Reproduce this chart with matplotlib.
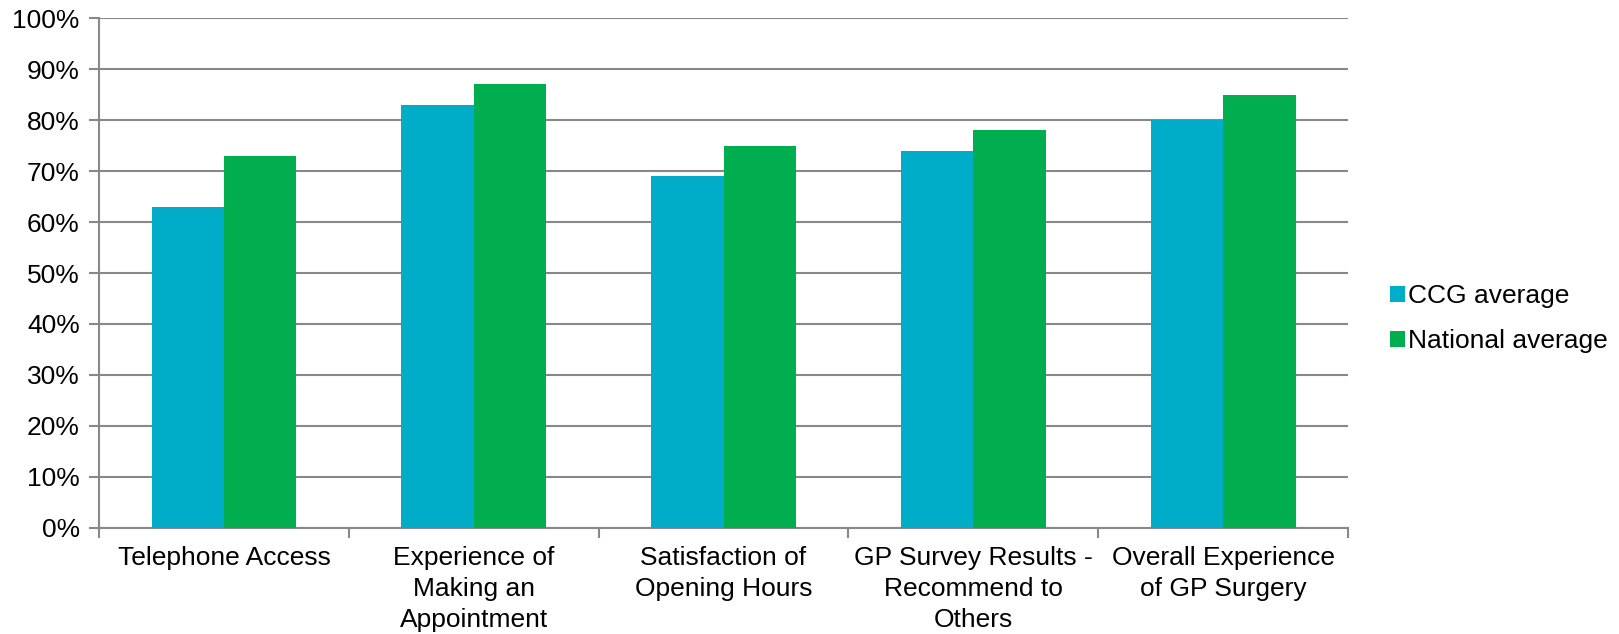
import numpy as np
import matplotlib
matplotlib.use("Agg")
import matplotlib.pyplot as plt
from matplotlib.ticker import FuncFormatter, FixedLocator

# 資料
categories = [
    "Telephone Access",
    "Experience of\nMaking an\nAppointment",
    "Satisfaction of\nOpening Hours",
    "GP Survey Results -\nRecommend to\nOthers",
    "Overall Experience\nof GP Surgery",
]
ccg_avg = [63, 83, 69, 74, 80]
national_avg = [73, 87, 75, 78, 85]
series_names = ["CCG average", "National average"]

plt.rcParams['font.family'] = ['Liberation Sans', 'DejaVu Sans']
fs = 19

fig = plt.figure(figsize=(16.19, 6.34), dpi=100)
ax = fig.add_axes([0.0612, 0.1672, 0.7714, 0.8044])

x = np.arange(len(categories))
w = 0.29
ax.bar(x - w / 2, ccg_avg, w, color="#00ADC8", label=series_names[0], zorder=3)
ax.bar(x + w / 2, national_avg, w, color="#00AE4F", label=series_names[1], zorder=3)

ax.set_xlim(-0.5, len(categories) - 0.5)
ax.set_ylim(0, 100)
ax.set_yticks(np.arange(0, 101, 10))
ax.yaxis.set_major_formatter(FuncFormatter(lambda v, p: f"{int(v)}%"))
ax.grid(axis="y", color="#888888", linewidth=1.5, zorder=0)

# x 軸：刻度在類別邊界，標籤在中間
ax.xaxis.set_major_locator(FixedLocator(np.arange(-0.5, len(categories), 1.0)))
ax.xaxis.set_major_formatter(FuncFormatter(lambda v, p: ""))
ax.xaxis.set_minor_locator(FixedLocator(x))
ax.set_xticklabels(categories, minor=True, fontsize=fs, linespacing=1.38)
ax.tick_params(axis="x", which="major", length=7, width=1.5, color="#888888")
ax.tick_params(axis="x", which="minor", length=0, pad=13)
ax.tick_params(axis="y", length=7, width=1.5, color="#888888", labelsize=fs, pad=7)

for s in ["top", "right"]:
    ax.spines[s].set_visible(False)
for s in ["left", "bottom"]:
    ax.spines[s].set_color("#888888")
    ax.spines[s].set_linewidth(1.5)

leg = ax.legend(loc="center left", bbox_to_anchor=(1.034, 0.41), frameon=False,
                borderpad=0, borderaxespad=0,
                fontsize=fs, handlelength=0.55, handleheight=0.55,
                handletextpad=0.1, labelspacing=0.8)

fig.savefig("out.png", dpi=100)
